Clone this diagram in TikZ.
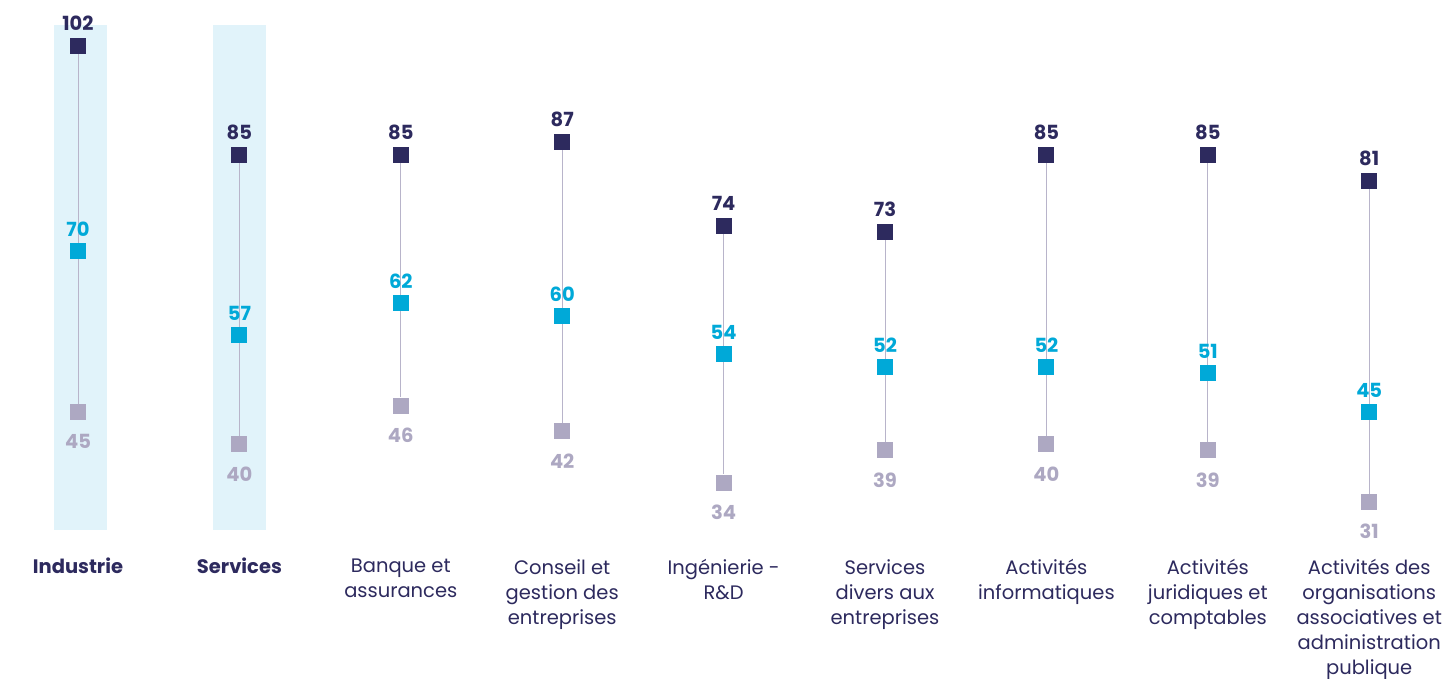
\documentclass[tikz,border=0pt]{standalone}
\usepackage{fontspec}
\setmainfont{Poppins}
\definecolor{navy}{HTML}{2D2A5E}
\definecolor{cyanv}{HTML}{00A9D8}
\definecolor{grayv}{HTML}{ADA8C2}
\definecolor{linev}{HTML}{B8B4CA}
\definecolor{hl}{HTML}{E1F3FA}
\tikzset{
  sq/.style={rectangle, minimum size=16pt, inner sep=0pt, draw=none},
  dk/.style={sq, fill=navy},
  cy/.style={sq, fill=cyanv},
  gr/.style={sq, fill=grayv},
  val/.style={font=\fontsize{19.5}{22}\selectfont\bfseries, inner sep=0pt, anchor=base},
  cat/.style={font=\fontsize{19.5}{25}\selectfont, text=navy, align=center, anchor=north, inner sep=0pt, execute at begin node=\strut},
  conn/.style={draw=linev, line width=1pt},
  hlbar/.style={fill=hl}
}
\begin{document}
\begin{tikzpicture}[x=1pt,y=-1pt]
\fill[white] (0,0) rectangle (1449,679);
\useasboundingbox (0,0) rectangle (1449,679);
\fill[hlbar] (54,25) rectangle (107,530);
\fill[hlbar] (213,25) rectangle (266,530);
\foreach \i/\vh/\vm/\vl/\dy/\lab in {
  0/102/70/45/0/{\bfseries Industrie},
  1/85/57/40/0/{\bfseries Services},
  2/85/62/46/3.5/{Banque et\\assurances},
  3/87/60/42/3.5/{Conseil et\\gestion des\\entreprises},
  4/74/54/34/3.5/{Ingénierie -\\R\&D},
  5/73/52/39/3.5/{Services\\divers aux\\entreprises},
  6/85/52/40/3.5/{Activités\\informatiques},
  7/85/51/39/3.5/{Activités\\juridiques et\\comptables},
  8/81/45/31/3.5/{Activités des\\organisations\\associatives et\\administration\\publique}}{
  \pgfmathsetmacro\x{78+\i*161.4}
  \pgfmathsetmacro\yh{46+(102-\vh)*6.42}
  \pgfmathsetmacro\ym{46+(102-\vm)*6.42}
  \pgfmathsetmacro\yl{46+(102-\vl)*6.42}
  \node[dk] (d\i) at (\x,\yh) {};
  \node[gr] (g\i) at (\x,\yl) {};
  \draw[conn] (d\i) -- (g\i);
  \node[cy] (c\i) at (\x,\ym) {};
  \node[val, text=navy] (ld\i) at (\x,\yh-15.5) {\vh};
  \node[val, text=cyanv] (lc\i) at (\x,\ym-14.5) {\vm};
  \node[val, text=grayv] (lg\i) at (\x,\yl+37) {\vl};
  \node[cat] (t\i) at (\x,555.5+\dy) {\lab};
}
\end{tikzpicture}
\end{document}
